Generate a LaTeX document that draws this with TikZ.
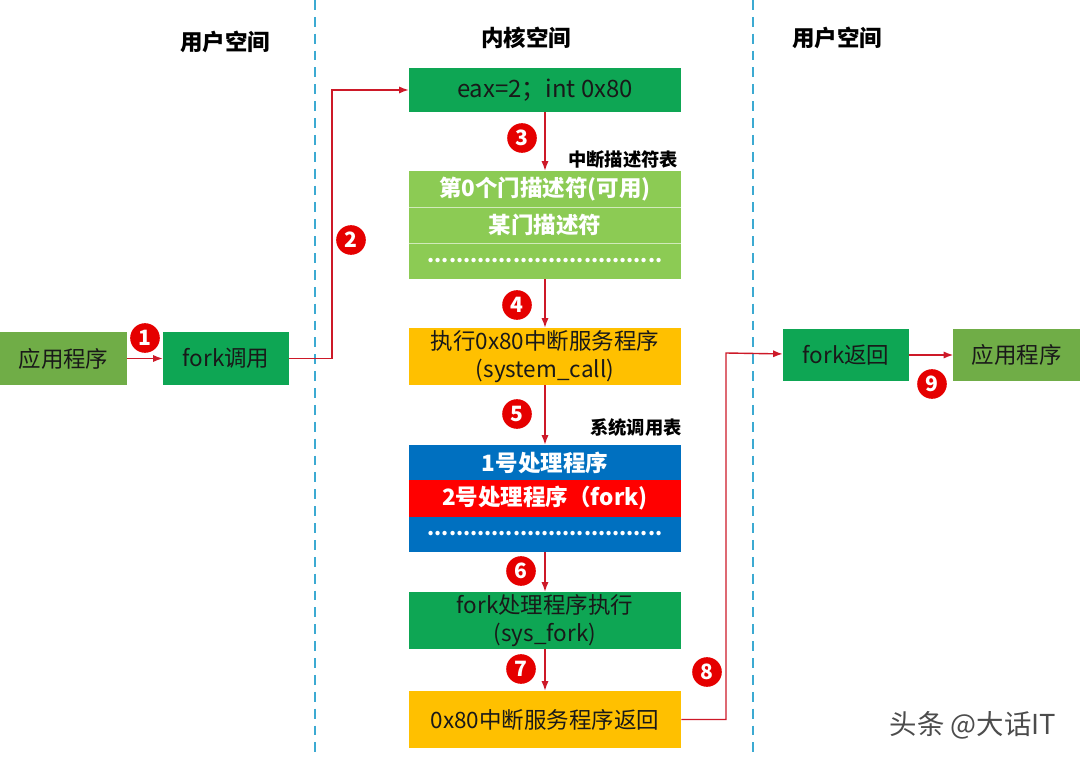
\documentclass[tikz,border=0pt]{standalone}
\usepackage{fontspec}
\setmainfont{Noto Sans CJK SC}
\usetikzlibrary{arrows.meta,positioning}
\definecolor{KernelGreen}{RGB}{14, 166, 84}
\definecolor{TableGreen}{RGB}{140, 203, 84}
\definecolor{AppOlive}{RGB}{112, 173, 71}
\definecolor{ServiceGold}{RGB}{255, 192, 0}
\definecolor{TableBlue}{RGB}{0, 112, 192}
\definecolor{ForkRed}{RGB}{255, 0, 0}
\definecolor{LinkRed}{RGB}{205, 25, 40}
\definecolor{SpaceCyan}{RGB}{60, 170, 210}
\tikzset{
  boxbase/.style={inner sep=0pt, text=black!90, font=\fontsize{16}{20}\selectfont},
  kernelbox/.style={boxbase, minimum width=6.8cm, minimum height=1.1cm, fill=KernelGreen},
  goldbox/.style={boxbase, minimum width=6.8cm, minimum height=1.425cm, fill=ServiceGold},
  userbox/.style={boxbase, minimum width=3.15cm, minimum height=1.3cm},
  rowbox/.style={inner sep=0pt, minimum width=6.8cm, minimum height=0.9cm, text=white, font=\fontsize{16}{20}\selectfont\bfseries},
  dotrow/.style={rowbox, font=\fontsize{14.4}{20}\selectfont\bfseries},
  spacelabel/.style={font=\fontsize{16}{20}\selectfont\bfseries},
  tablelabel/.style={font=\fontsize{13}{16}\selectfont\bfseries},
  stepdot/.style={circle, fill=ForkRed!90!black, text=white, inner sep=0pt, minimum size=0.74cm, font=\fontsize{15}{15}\selectfont\bfseries},
  link/.style={-{Latex[length=2.4mm]}, draw=LinkRed, line width=1pt},
  divider/.style={draw=SpaceCyan, line width=0.8pt, dash pattern=on 7pt off 5pt}
}
\begin{document}
\begin{tikzpicture}[x=0.025cm, y=-0.025cm, every node/.style={align=center}]
  \useasboundingbox (0, 0) rectangle (1080, 761);
  % Space dividers
  \coordinate (leftTop) at (315, 0);
  \coordinate (leftEnd) at (315, 755);
  \coordinate (rightTop) at (753, 0);
  \coordinate (rightEnd) at (753, 755);
  \draw[divider] (leftTop) -- (leftEnd);
  \draw[divider] (rightTop) -- (rightEnd);
  \node[spacelabel] (userA) at (225, 42) {用户空间};
  \node[spacelabel] (kernel) at (526, 38) {内核空间};
  \node[spacelabel] (userB) at (837, 38) {用户空间};
  % User side, left
  \node[userbox, fill=AppOlive] (appA) at (63.5, 358.5) {应用程序};
  \node[userbox, fill=KernelGreen] (forkcall) at (226, 358.5) {fork调用};
  % Kernel column
  \node[kernelbox, font=\fontsize{17}{20}\selectfont] (eax) at (545, 90) {eax=2；int 0x80};
  \node[tablelabel] (idtlabel) at (623, 160) {中断描述符表};
  \node[rowbox, fill=TableGreen] (gateA) at (545, 189) {第0个门描述符(可用)};
  \node[rowbox, fill=TableGreen] (gateB) at (545, 225) {某门描述符};
  \node[dotrow, fill=TableGreen] (gateC) at (545, 261) {\raisebox{-3pt}{.................................}};
  \draw[draw=white!60!TableGreen, line width=0.6pt] (gateA.south west) -- (gateA.south east);
  \draw[draw=white!60!TableGreen, line width=0.6pt] (gateB.south west) -- (gateB.south east);
  \node[goldbox] (service) at (545, 356.5) {执行0x80中断服务程序\\(system\_call)};
  \node[tablelabel] (calllabel) at (636, 428) {系统调用表};
  \node[rowbox, fill=TableBlue] (handlerA) at (545, 463) {1号处理程序};
  \node[dotrow, fill=TableBlue] (handlerC) at (545, 534) {\raisebox{-3pt}{.................................}};
  \node[rowbox, fill=ForkRed] (handlerB) at (545, 498.5) {2号处理程序（fork)};
  \node[kernelbox, minimum height=1.425cm] (sysfork) at (545, 620.5) {fork处理程序执行\\(sys\_fork)};
  \node[goldbox] (iret) at (545, 719.5) {0x80中断服务程序返回};
  % User side, right
  \node[userbox, fill=KernelGreen] (forkret) at (846, 355) {fork返回};
  \node[userbox, fill=AppOlive] (appB) at (1016.5, 355) {应用程序};
  % Connections
  \coordinate (bendA) at (332, 90);
  \coordinate (bendB) at (726, 353);
  \draw[link] (appA) -- (forkcall);
  \draw[link] (forkcall) -| (bendA) -- (eax);
  \draw[link] (eax) -- (gateA);
  \draw[link] (gateC) -- (service);
  \draw[link] (service) -- (handlerA);
  \draw[link] (handlerC) -- (sysfork);
  \draw[link] (sysfork) -- (iret);
  \draw[link] (iret) -| (bendB) -- (forkret);
  \draw[link] (forkret) -- (appB);
  % Step numbers
  \node[stepdot] (stepA) at (145, 338) {1};
  \node[stepdot] (stepB) at (351, 240) {2};
  \node[stepdot] (stepC) at (522, 138) {3};
  \node[stepdot] (stepD) at (517, 305) {4};
  \node[stepdot] (stepE) at (517, 414) {5};
  \node[stepdot] (stepF) at (521, 571) {6};
  \node[stepdot] (stepG) at (521, 669) {7};
  \node[stepdot] (stepH) at (707, 672) {8};
  \node[stepdot] (stepI) at (932, 384) {9};
  \node[text=black!70, font=\fontsize{19.5}{22}\selectfont] (mark) at (973, 725) {头条 @大话IT};
\end{tikzpicture}
\end{document}
